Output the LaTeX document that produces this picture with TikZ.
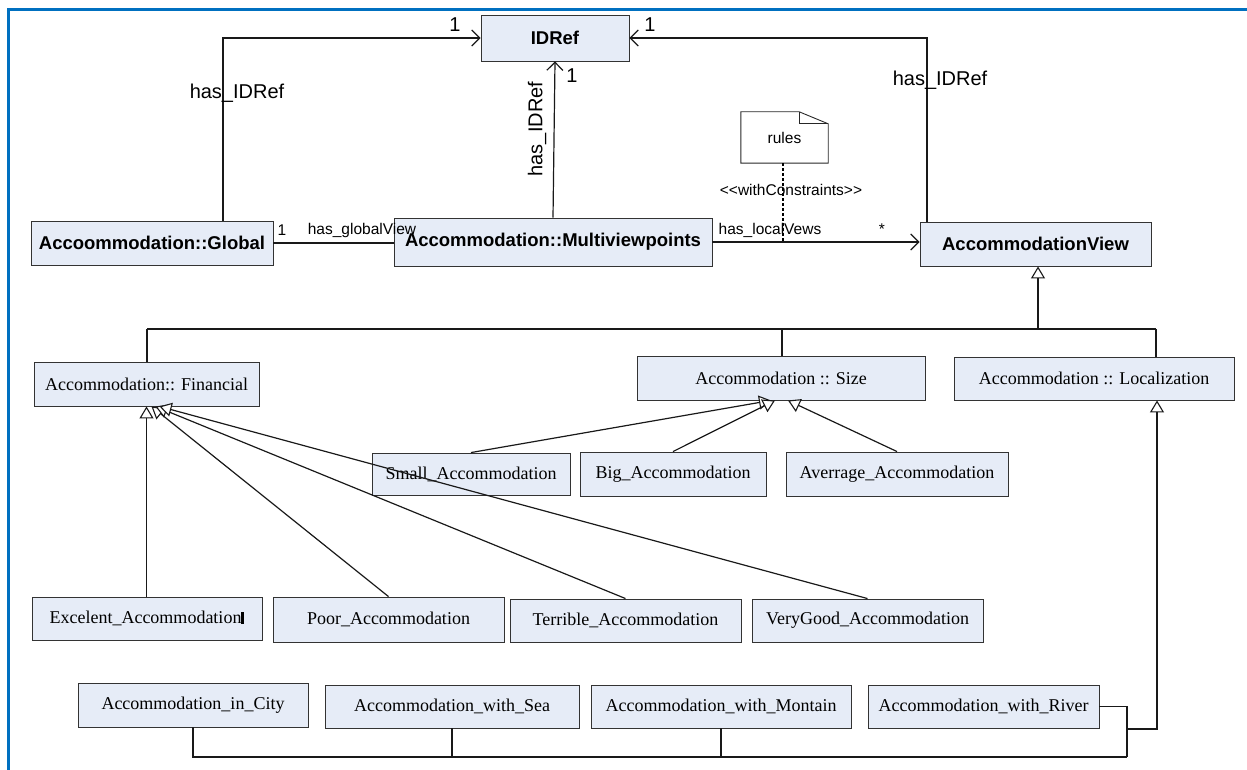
\documentclass[tikz,border=0pt]{standalone}
\usepackage{fontspec}
\setmainfont{Liberation Serif}
\newfontfamily\arial{Liberation Sans}
\usetikzlibrary{arrows.meta,shadows}

\definecolor{clsfill}{RGB}{230,236,247}
\definecolor{frameblue}{RGB}{0,112,192}

\begin{document}
\begin{tikzpicture}[x=1pt,y=-1pt,
  box/.style={draw=black!80, fill=clsfill, line width=0.9pt, inner sep=0pt,
    drop shadow={shadow xshift=1.2pt, shadow yshift=-1.2pt, fill=black!35, opacity=0.7}},
  sansbox/.style={box, font=\arial\bfseries\fontsize{18.5}{21}\selectfont},
  serifbox/.style={box, font=\fontsize{18}{20}\selectfont},
  conn/.style={line width=1.2pt, draw=black!90},
  assoc/.style={conn, -{Straight Barb[length=8pt,width=16pt,line width=1.2pt]}},
  gen/.style={conn, -{Triangle[length=12pt,width=14pt,fill=white,line width=1.1pt]}},
  biglbl/.style={font=\arial\fontsize{20}{22}\selectfont, inner sep=0pt},
  smalllbl/.style={font=\arial\fontsize{15.5}{18}\selectfont, inner sep=0pt},
]
\useasboundingbox (0,0) rectangle (1247,770);

% page frame (top and left rules)
\draw[frameblue, line width=3pt] (8,770) -- (8,10) -- (1247,10);

% ---- top level classes
\node[sansbox, minimum width=148, minimum height=46] (IDRef) at (555,38) {IDRef};
\node[sansbox, minimum width=242, minimum height=44] (Global) at (152,243) {Accoommodation::Global};
\node[sansbox, minimum width=318, minimum height=48] (Multi) at (553,242) {Accommodation::Multiviewpoints};
\node[sansbox, minimum width=231, minimum height=44] (AView) at (1035.5,244) {AccommodationView};

% ---- views
\node[serifbox, minimum width=225, minimum height=44] (Fin) at (146.5,384) {Accommodation:: Financial};
\node[serifbox, minimum width=288, minimum height=44] (Size) at (781,378) {Accommodation :: Size};
\node[serifbox, minimum width=280, minimum height=43] (Local) at (1094,378.5) {Accommodation :: Localization};

% ---- size classes
\node[serifbox, minimum width=198, minimum height=42] (Small) at (471,474) {Small\_Accommodation};
\node[serifbox, minimum width=186, minimum height=44] (Big) at (673,474) {Big\_Accommodation};
\node[serifbox, minimum width=222, minimum height=44] (Avg) at (897,474) {Averrage\_Accommodation};

% ---- financial classes
\node[serifbox, minimum width=230, minimum height=43] (Exc) at (147,618.5) {Excelent\_Accommodation\rule{3pt}{12pt}};
\node[serifbox, minimum width=231, minimum height=45] (Poor) at (388.5,619.5) {Poor\_Accommodation};
\node[serifbox, minimum width=231, minimum height=43] (Terr) at (625.5,620.5) {Terrible\_Accommodation};
\node[serifbox, minimum width=231, minimum height=43] (VGood) at (867.5,620.5) {VeryGood\_Accommodation};

% ---- localization classes
\node[serifbox, minimum width=230, minimum height=44] (City) at (193,705) {Accommodation\_in\_City};
\node[serifbox, minimum width=254, minimum height=43] (Sea) at (452,706.5) {Accommodation\_with\_Sea};
\node[serifbox, minimum width=260, minimum height=43] (Mont) at (721,706.5) {Accommodation\_with\_Montain};
\node[serifbox, minimum width=231, minimum height=43] (River) at (983.5,706.5) {Accommodation\_with\_River};

% ---- note
\node[minimum width=87, minimum height=51, inner sep=0pt, font=\arial\fontsize{15.5}{18}\selectfont]
  (rules) at (784.5,137.5) {\raisebox{-5pt}{rules}};
\draw[line width=0.9pt, black!85]
  (rules.south west) -- (rules.north west) -- ([xshift=-29pt]rules.north east)
  -- ([yshift=-12pt]rules.north east) -- (rules.south east) -- cycle;
\draw[line width=0.9pt, black!85]
  ([xshift=-29pt]rules.north east) -- ([xshift=-29pt,yshift=-12pt]rules.north east)
  -- ([yshift=-12pt]rules.north east);

% ---- associations to IDRef
\coordinate (gx) at (223,38);
\coordinate (vx) at (927,38);
\draw[assoc] (Global.north -| gx) |- (IDRef.west);
\draw[assoc] (AView.north -| vx) |- (IDRef.east);
\draw[assoc] (Multi.north) -- (IDRef.south);
\node[biglbl] at (237,93) {has\_IDRef};
\node[biglbl] at (940,80) {has\_IDRef};
\node[biglbl, rotate=90] at (537,129) {has\_IDRef};
\node[biglbl] at (455,25) {1};
\node[biglbl] at (650,25) {1};
\node[biglbl] at (572,76) {1};

% ---- views of the multiviewpoint class
\draw[conn] (Global.east) -- (Global.east -| Multi.west);
\node[smalllbl] at (282,230) {1};
\node[smalllbl] at (362,230) {has\_globalView};
\draw[assoc] (Multi.east) -- (Multi.east -| AView.west);
\node[smalllbl] at (770,230) {has\_localVews};
\node[smalllbl] at (882,229) {*};
\coordinate (cst) at (783,242);
\draw[line width=2pt, dash pattern=on 3pt off 2pt] (rules.south -| cst) -- (cst);
\node[smalllbl] at (791,190) {<{}<withConstraints>{}>};

% ---- generalization of the view classes
\coordinate (jA) at (1038,329);
\coordinate (jF) at (147,329);
\coordinate (jS) at (782,329);
\coordinate (jL) at (1156,329);
\draw[conn] (jF) -- (jL);
\draw[gen] (jA) -- (jA |- AView.south);
\draw[conn] (jF) -- (jF |- Fin.north);
\draw[conn] (jS) -- (jS |- Size.north);
\draw[conn] (jL) -- (jL |- Local.north);

% ---- financial subclasses
\draw[gen] (Exc.north -| Fin.south) -- (Fin.south);
\draw[gen] (Poor.north) -- ([xshift=5pt]Fin.south);
\draw[gen] (Terr.north) -- ([xshift=9pt]Fin.south);
\draw[gen] (VGood.north) -- ([xshift=13pt]Fin.south);

% ---- size subclasses
\draw[gen] (Small.north) -- ([xshift=-10pt]Size.south);
\draw[gen] (Big.north) -- ([xshift=-6pt]Size.south);
\draw[gen] (Avg.north) -- ([xshift=7pt]Size.south);

% ---- localization subclasses
\coordinate (bR) at (1127,757);
\coordinate (lc) at (1127,729);
\draw[conn] (City.south) |- (bR);
\draw[conn] (Sea.south) -- (Sea.south |- bR);
\draw[conn] (Mont.south) -- (Mont.south |- bR);
\draw[conn] (River.east) -| (bR);
\draw[gen] (lc) -| ([xshift=63pt]Local.south);
\end{tikzpicture}
\end{document}
